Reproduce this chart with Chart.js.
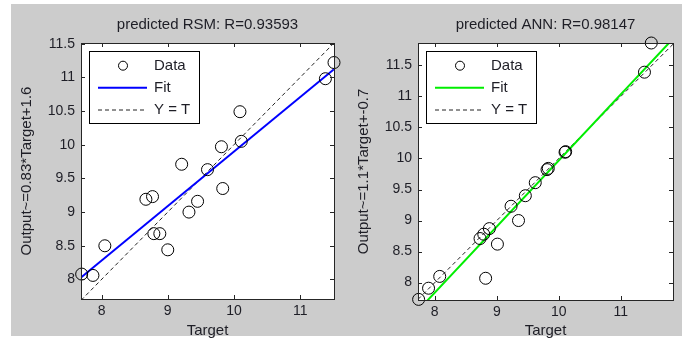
<!DOCTYPE html>
<html>
<head>
<meta charset="utf-8">
<script src="https://cdn.jsdelivr.net/npm/chart.js@4.4.1/dist/chart.umd.min.js"></script>
<style>
body{margin:0;background:#fff;width:682px;height:347px;overflow:hidden;position:relative}
#fig{position:absolute;left:11px;top:4px;width:671px;height:332px;background:#cccccc}
.panel{position:absolute;top:0;height:347px;width:341px}
</style>
</head>
<body>
<div id="fig"></div>
<div class="panel" style="left:0"><canvas id="chartRSM" width="341" height="347"></canvas></div>
<div class="panel" style="left:341px"><canvas id="chartANN" width="341" height="347"></canvas></div>
<script>
// values
var targetRSM = [7.70, 7.87, 8.05, 8.67, 8.77, 8.79, 8.88, 9.00, 9.21, 9.32, 9.45, 9.60, 9.81, 9.83, 10.09, 10.11, 11.38, 11.51];
var outputRSM = [8.08, 8.06, 8.50, 9.19, 9.23, 8.68, 8.68, 8.44, 9.71, 9.00, 9.16, 9.63, 9.97, 9.35, 10.49, 10.05, 10.98, 11.22];
var targetANN = [7.74, 7.90, 8.08, 8.73, 8.79, 8.82, 8.88, 9.01, 9.23, 9.35, 9.46, 9.62, 9.81, 9.83, 10.10, 10.11, 11.38, 11.49];
var outputANN = [7.73, 7.91, 8.10, 8.71, 8.78, 8.07, 8.87, 8.62, 9.23, 9.00, 9.40, 9.61, 9.82, 9.84, 10.10, 10.11, 11.39, 11.86];

// fit lines (end points at the x limits)
var fitRSMx = [7.69, 11.51], fitRSMy = [8.03, 11.12];
var fitANNx = [7.73, 11.86], fitANNy = [7.55, 11.95];

// axis limits and ticks
var limRSMx = [7.69, 11.51], limRSMy = [7.71, 11.51];
var limANNx = [7.73, 11.84], limANNy = [7.72, 11.86];
var xTicks = [8, 9, 10, 11];
var yTicks = [8, 8.5, 9, 9.5, 10, 10.5, 11, 11.5];

var FONT = "'Liberation Sans', Arial, sans-serif";
var TXT = '#1e1e26';

var matlabPlugin = {
  id: 'matlabBox',
  beforeDraw: function(chart){
    var a = chart.chartArea, c = chart.ctx;
    c.save();
    c.fillStyle = '#fff';
    c.fillRect(a.left, a.top, a.right - a.left, a.bottom - a.top);
    c.restore();
  },
  afterDraw: function(chart){
    var a = chart.chartArea, c = chart.ctx;
    var sx = chart.scales.x, sy = chart.scales.y;
    c.save();
    c.strokeStyle = '#262626';
    c.lineWidth = 1;
    c.beginPath();
    sx.ticks.forEach(function(t){
      var px = Math.round(sx.getPixelForValue(t.value)) + 0.5;
      c.moveTo(px, a.bottom); c.lineTo(px, a.bottom - 4);
      c.moveTo(px, a.top); c.lineTo(px, a.top + 4);
    });
    sy.ticks.forEach(function(t){
      var py = Math.round(sy.getPixelForValue(t.value)) + 0.5;
      c.moveTo(a.left, py); c.lineTo(a.left + 4, py);
      c.moveTo(a.right, py); c.lineTo(a.right - 4, py);
    });
    c.stroke();
    c.strokeRect(Math.round(a.left) + 0.5, Math.round(a.top) + 0.5, Math.round(a.right - a.left), Math.round(a.bottom - a.top));

    // legend box inside the axes
    var ds = chart.data.datasets;
    var lx = Math.round(a.left) + 8, ly = Math.round(a.top) + 8, w = 110, h = 72;
    c.fillStyle = '#fff';
    c.fillRect(lx, ly, w, h);
    c.strokeStyle = '#000';
    c.strokeRect(lx + 0.5, ly + 0.5, w, h);
    var rows = [14.7, 36.7, 59];
    c.font = '15px ' + FONT;
    c.textBaseline = 'middle';
    c.textAlign = 'left';
    ds.forEach(function(d, i){
      var y = ly + rows[i];
      c.save();
      if (i === 0) {
        c.beginPath();
        c.strokeStyle = d.borderColor;
        c.lineWidth = 1;
        c.arc(lx + 34, y, 4.5, 0, Math.PI * 2);
        c.stroke();
      } else {
        c.beginPath();
        c.strokeStyle = d.borderColor;
        c.lineWidth = d.borderWidth;
        c.setLineDash(d.borderDash || []);
        c.moveTo(lx + 9, y); c.lineTo(lx + 58, y);
        c.stroke();
      }
      c.restore();
      c.fillStyle = TXT;
      c.fillText(d.label, lx + 65, y);
    });
    c.restore();
  }
};

function makeChart(id, p){
  var ctx = document.getElementById(id).getContext('2d');
  return new Chart(ctx, {
    type: 'scatter',
    data: {
      datasets: [{
        label: 'Data',
        data: p.target.map(function(t, i){ return {x: t, y: p.output[i]}; }),
        pointStyle: 'circle',
        pointRadius: 6,
        borderColor: '#000',
        backgroundColor: 'rgba(0,0,0,0)',
        borderWidth: 1,
        clip: false
      }, {
        type: 'line',
        label: 'Fit',
        data: [{x: p.fitX[0], y: p.fitY[0]}, {x: p.fitX[1], y: p.fitY[1]}],
        borderColor: p.fitColor,
        borderWidth: 2,
        pointRadius: 0,
        clip: 0
      }, {
        type: 'line',
        label: 'Y = T',
        data: [{x: p.limX[0], y: p.limX[0]}, {x: p.limX[1], y: p.limX[1]}],
        borderColor: '#222',
        borderWidth: 1,
        borderDash: [4, 3],
        pointRadius: 0,
        clip: 0
      }]
    },
    options: {
      responsive: false,
      animation: false,
      events: [],
      layout: {padding: {left: p.padLeft, right: p.padRight, top: 4, bottom: 0}},
      plugins: {
        legend: {display: false},
        tooltip: {enabled: false},
        title: {
          display: true, text: p.title, fullSize: false, color: TXT,
          font: {family: FONT, size: 15, weight: 'normal'},
          padding: {top: 12, bottom: 9}
        }
      },
      scales: {
        x: {
          type: 'linear', min: p.limX[0], max: p.limX[1],
          grid: {display: false, drawTicks: false, tickLength: 0}, border: {display: false},
          afterBuildTicks: function(s){ s.ticks = xTicks.map(function(v){ return {value: v}; }); },
          afterFit: function(s){ s.height = p.xHeight; },
          ticks: {callback: function(v){ return String(v); }, color: TXT, font: {family: FONT, size: 14}, padding: 4, maxRotation: 0, autoSkip: false},
          title: {display: true, text: 'Target', color: TXT, font: {family: FONT, size: 15}, padding: {top: 0, bottom: 7}}
        },
        y: {
          type: 'linear', min: p.limY[0], max: p.limY[1],
          grid: {display: false, drawTicks: false, tickLength: 0}, border: {display: false},
          afterBuildTicks: function(s){ s.ticks = yTicks.map(function(v){ return {value: v}; }); },
          afterFit: function(s){ s.width = p.yWidth; },
          ticks: {callback: function(v){ return String(v); }, color: TXT, font: {family: FONT, size: 14}, padding: 6, autoSkip: false},
          title: {display: true, text: p.yLabel, color: TXT, font: {family: FONT, size: 15}, padding: {top: p.yTitlePad, bottom: 0}}
        }
      }
    },
    plugins: [matlabPlugin]
  });
}

makeChart('chartRSM', {
  target: targetRSM, output: outputRSM, fitX: fitRSMx, fitY: fitRSMy, fitColor: '#0000ff',
  limX: limRSMx, limY: limRSMy, title: 'predicted RSM: R=0.93593', yLabel: 'Output~=0.83*Target+1.6',
  padLeft: 11, padRight: 3, yWidth: 70, xHeight: 48, yTitlePad: 7
});
makeChart('chartANN', {
  target: targetANN, output: outputANN, fitX: fitANNx, fitY: fitANNy, fitColor: '#00ee00',
  limX: limANNx, limY: limANNy, title: 'predicted ANN: R=0.98147', yLabel: 'Output~=1.1*Target+-0.7',
  padLeft: 6, padRight: 9, yWidth: 71, xHeight: 47, yTitlePad: 8
});
</script>
</body>
</html>
